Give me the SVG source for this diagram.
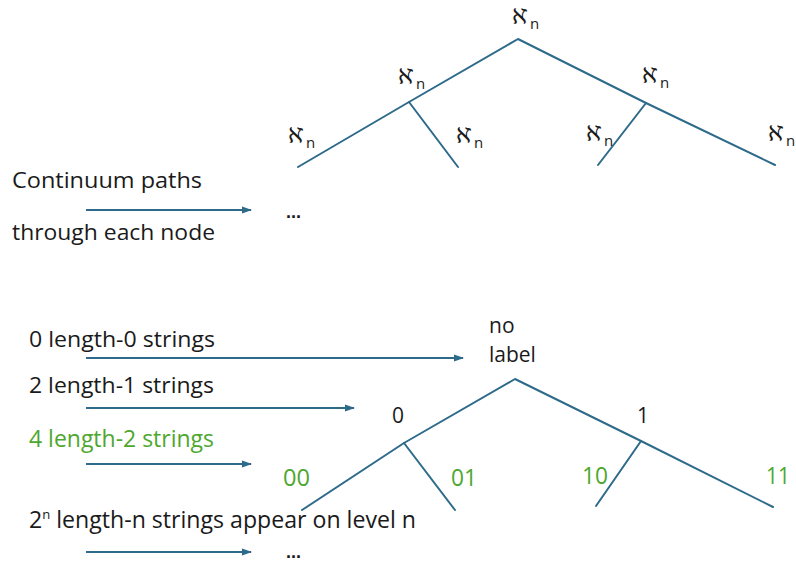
<svg xmlns="http://www.w3.org/2000/svg" width="796" height="562" viewBox="0 0 796 562">
<defs>
<marker id="ah" markerWidth="10" markerHeight="8" refX="9" refY="4" orient="auto" markerUnits="userSpaceOnUse">
<path d="M0,0.5 L10,4 L0,7.5 Z" fill="#2e6a8a"/>
</marker>
<style>
.ln{stroke:#2e6a8a;stroke-width:2;fill:none;stroke-linecap:round;stroke-linejoin:round}
.ar{stroke:#2e6a8a;stroke-width:2;fill:none;marker-end:url(#ah)}
.t{font-family:"Open Sans","Liberation Sans",sans-serif;font-size:21px;fill:#1a1a1a}
.c{font-size:23px}
.g{fill:#4ea72e}
.al{font-family:"Noto Sans CJK JP","DejaVu Sans",sans-serif;font-size:20px;font-weight:500;fill:#1a1a1a}
.sub{font-family:"Open Sans","Liberation Sans",sans-serif;font-size:15px;font-weight:400}
.dots{font-family:"Liberation Sans",sans-serif;font-size:18px;fill:#1a1a1a;font-weight:bold}
</style>
</defs>
<rect width="796" height="562" fill="#ffffff"/>

<g id="connectors">
<polyline class="ln" points="298,167 409,102 518,39 646,103 775,165"/>
<line class="ln" x1="409" y1="102" x2="458" y2="167"/>
<line class="ln" x1="646" y1="103" x2="598" y2="165"/>
<polyline class="ln" points="302,510 404,443 515,379 641,441 773,507"/>
<line class="ln" x1="404" y1="443" x2="455" y2="510"/>
<line class="ln" x1="641" y1="441" x2="596" y2="506"/>
<line class="ar" x1="86" y1="210" x2="251" y2="210"/>
<line class="ar" x1="86" y1="358" x2="463" y2="358"/>
<line class="ar" x1="86" y1="408" x2="354" y2="408"/>
<line class="ar" x1="86" y1="464" x2="251" y2="464"/>
<line class="ar" x1="86" y1="552" x2="251" y2="552"/>
</g>

<g id="top-root"><text class="al" x="510" y="24">ℵ<tspan class="sub" dy="5">n</tspan></text></g>
<g id="top-left"><text class="al" x="396" y="84">ℵ<tspan class="sub" dy="5">n</tspan></text></g>
<g id="top-right"><text class="al" x="640" y="83">ℵ<tspan class="sub" dy="5">n</tspan></text></g>
<g id="top-ll"><text class="al" x="286" y="143">ℵ<tspan class="sub" dy="5">n</tspan></text></g>
<g id="top-lr"><text class="al" x="454" y="143">ℵ<tspan class="sub" dy="5">n</tspan></text></g>
<g id="top-rl"><text class="al" x="584" y="141">ℵ<tspan class="sub" dy="5">n</tspan></text></g>
<g id="top-rr"><text class="al" x="766" y="141">ℵ<tspan class="sub" dy="5">n</tspan></text></g>

<g id="label-continuum">
<text class="t" x="12" y="188" textLength="190" lengthAdjust="spacingAndGlyphs">Continuum paths</text>
<text class="t" x="12" y="240" textLength="203" lengthAdjust="spacingAndGlyphs">through each node</text>
<text class="dots" x="286" y="218">...</text>
</g>

<g id="bottom-root"><text class="t" x="489" y="333">no</text><text class="t" x="489" y="362">label</text></g>
<g id="bottom-0"><text class="t" x="392" y="423">0</text></g>
<g id="bottom-1"><text class="t" x="637" y="423">1</text></g>
<g id="bottom-00"><text class="t c g" x="283" y="486" textLength="27" lengthAdjust="spacingAndGlyphs">00</text></g>
<g id="bottom-01"><text class="t c g" x="451" y="486" textLength="26" lengthAdjust="spacingAndGlyphs">01</text></g>
<g id="bottom-10"><text class="t c g" x="582" y="484" textLength="26" lengthAdjust="spacingAndGlyphs">10</text></g>
<g id="bottom-11"><text class="t c g" x="766" y="484" textLength="24" lengthAdjust="spacingAndGlyphs">11</text></g>

<g id="left-labels">
<text class="t" x="29" y="347" textLength="186" lengthAdjust="spacingAndGlyphs">0 length-0 strings</text>
<text class="t" x="29" y="393" textLength="185" lengthAdjust="spacingAndGlyphs">2 length-1 strings</text>
<text class="t c g" x="29" y="447" textLength="185" lengthAdjust="spacingAndGlyphs">4 length-2 strings</text>
<text class="t c" x="29" y="528" textLength="387" lengthAdjust="spacingAndGlyphs">2<tspan font-size="13" dy="-9">n</tspan><tspan dy="9"> length-n strings appear on level n</tspan></text>
<text class="dots" x="286" y="558">...</text>
</g>
</svg>
